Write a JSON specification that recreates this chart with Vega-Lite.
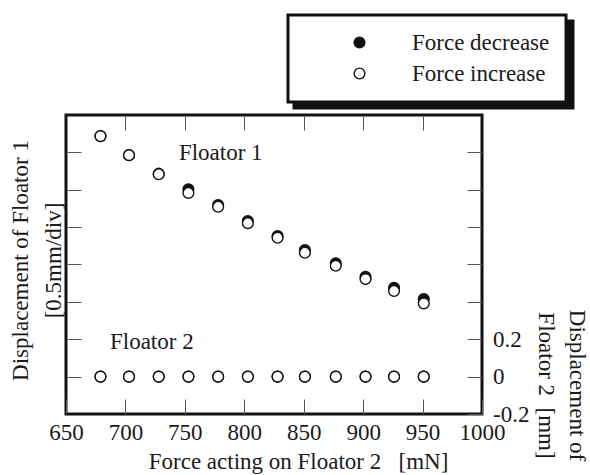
{
  "$schema": "https://vega.github.io/schema/vega-lite/v6.json",
  "width": 416,
  "height": 299,
  "autosize": {"type": "none"},
  "padding": {"left": 66, "top": 115, "right": 108, "bottom": 61},
  "background": "white",
  "datasets": {
    "points": [
      {"series": "Force decrease", "floator": "Floator 1", "force": 679, "disp": 1.287},
      {"series": "Force decrease", "floator": "Floator 1", "force": 703, "disp": 1.185},
      {"series": "Force decrease", "floator": "Floator 1", "force": 728, "disp": 1.086},
      {"series": "Force decrease", "floator": "Floator 1", "force": 753, "disp": 1.003},
      {"series": "Force decrease", "floator": "Floator 1", "force": 778, "disp": 0.918},
      {"series": "Force decrease", "floator": "Floator 1", "force": 803, "disp": 0.832},
      {"series": "Force decrease", "floator": "Floator 1", "force": 828, "disp": 0.752},
      {"series": "Force decrease", "floator": "Floator 1", "force": 851, "disp": 0.677},
      {"series": "Force decrease", "floator": "Floator 1", "force": 877, "disp": 0.607},
      {"series": "Force decrease", "floator": "Floator 1", "force": 902, "disp": 0.534},
      {"series": "Force decrease", "floator": "Floator 1", "force": 926, "disp": 0.475},
      {"series": "Force decrease", "floator": "Floator 1", "force": 951, "disp": 0.415},
      {"series": "Force decrease", "floator": "Floator 2", "force": 679, "disp": 0},
      {"series": "Force decrease", "floator": "Floator 2", "force": 703, "disp": 0},
      {"series": "Force decrease", "floator": "Floator 2", "force": 728, "disp": 0},
      {"series": "Force decrease", "floator": "Floator 2", "force": 753, "disp": 0},
      {"series": "Force decrease", "floator": "Floator 2", "force": 778, "disp": 0},
      {"series": "Force decrease", "floator": "Floator 2", "force": 803, "disp": 0},
      {"series": "Force decrease", "floator": "Floator 2", "force": 828, "disp": 0},
      {"series": "Force decrease", "floator": "Floator 2", "force": 851, "disp": 0},
      {"series": "Force decrease", "floator": "Floator 2", "force": 877, "disp": 0},
      {"series": "Force decrease", "floator": "Floator 2", "force": 902, "disp": 0},
      {"series": "Force decrease", "floator": "Floator 2", "force": 926, "disp": 0},
      {"series": "Force decrease", "floator": "Floator 2", "force": 951, "disp": 0},
      {"series": "Force increase", "floator": "Floator 1", "force": 679, "disp": 1.287},
      {"series": "Force increase", "floator": "Floator 1", "force": 703, "disp": 1.185},
      {"series": "Force increase", "floator": "Floator 1", "force": 728, "disp": 1.083},
      {"series": "Force increase", "floator": "Floator 1", "force": 753, "disp": 0.983},
      {"series": "Force increase", "floator": "Floator 1", "force": 778, "disp": 0.909},
      {"series": "Force increase", "floator": "Floator 1", "force": 803, "disp": 0.821},
      {"series": "Force increase", "floator": "Floator 1", "force": 828, "disp": 0.743},
      {"series": "Force increase", "floator": "Floator 1", "force": 851, "disp": 0.663},
      {"series": "Force increase", "floator": "Floator 1", "force": 877, "disp": 0.593},
      {"series": "Force increase", "floator": "Floator 1", "force": 902, "disp": 0.522},
      {"series": "Force increase", "floator": "Floator 1", "force": 926, "disp": 0.458},
      {"series": "Force increase", "floator": "Floator 1", "force": 951, "disp": 0.392},
      {"series": "Force increase", "floator": "Floator 2", "force": 679, "disp": 0},
      {"series": "Force increase", "floator": "Floator 2", "force": 703, "disp": 0},
      {"series": "Force increase", "floator": "Floator 2", "force": 728, "disp": 0},
      {"series": "Force increase", "floator": "Floator 2", "force": 753, "disp": 0},
      {"series": "Force increase", "floator": "Floator 2", "force": 778, "disp": 0},
      {"series": "Force increase", "floator": "Floator 2", "force": 803, "disp": 0},
      {"series": "Force increase", "floator": "Floator 2", "force": 828, "disp": 0},
      {"series": "Force increase", "floator": "Floator 2", "force": 851, "disp": 0},
      {"series": "Force increase", "floator": "Floator 2", "force": 877, "disp": 0},
      {"series": "Force increase", "floator": "Floator 2", "force": 902, "disp": 0},
      {"series": "Force increase", "floator": "Floator 2", "force": 926, "disp": 0},
      {"series": "Force increase", "floator": "Floator 2", "force": 951, "disp": 0}
    ],
    "labels": [
      {"force": 745, "disp": 1.196, "label": "Floator 1"},
      {"force": 687, "disp": 0.185, "label": "Floator 2"}
    ]
  },
  "layer": [
    {
      "data": {"name": "points"},
      "mark": {"type": "point", "shape": "circle", "size": 115, "filled": true, "strokeWidth": 1.4, "opacity": 1},
      "encoding": {
        "x": {
          "field": "force", "type": "quantitative",
          "scale": {"domain": [650, 1000], "nice": false, "zero": false},
          "axis": {
            "orient": "bottom",
            "values": [650, 700, 750, 800, 850, 900, 950, 1000],
            "format": "d",
            "labelPadding": 22.5,
            "labelBaseline": "top",
            "title": "Force acting on Floator 2\u00a0\u00a0\u00a0[mN]",
            "titleX": 232,
            "titleY": 54,
            "titleBaseline": "alphabetic"
          }
        },
        "y": {
          "field": "disp", "type": "quantitative",
          "scale": {"domain": [-0.2, 1.4], "nice": false, "zero": false},
          "axis": {
            "orient": "left",
            "values": [0, 0.2, 0.4, 0.6, 0.8, 1.0, 1.2],
            "labels": false,
            "title": ["Displacement of Floator 1", "[0.5mm/div]"],
            "titleAngle": 270,
            "titleBaseline": "middle",
            "titleAlign": "center",
            "titleLineHeight": 33,
            "titleX": -46,
            "titleY": 145
          }
        },
        "fill": {
          "field": "series", "type": "nominal",
          "scale": {"domain": ["Force decrease", "Force increase"], "range": ["#111111", "#ffffff"]},
          "legend": {
            "title": null,
            "orient": "none",
            "legendX": 222,
            "legendY": -100,
            "zindex": 2,
            "labelOffset": 41,
            "rowPadding": 7,
            "symbolStrokeColor": "#111111",
            "labelColor": "#1a1a1a",
            "strokeColor": "#111111",
            "fillColor": "white"
          }
        },
        "stroke": {
          "field": "series", "type": "nominal",
          "scale": {"domain": ["Force increase", "Force decrease"], "range": ["#111111", "#111111"]},
          "legend": {
            "title": null,
            "orient": "none",
            "legendX": 228,
            "legendY": -94,
            "zindex": 1,
            "labelExpr": "''",
            "labelOffset": 180,
            "rowPadding": 7.5,
            "symbolStrokeColor": "#111111",
            "symbolFillColor": "#111111",
            "strokeColor": "#111111",
            "fillColor": "#111111"
          }
        }
      }
    },
    {
      "data": {"name": "labels"},
      "mark": {"type": "text", "align": "left", "baseline": "middle", "font": "Liberation Serif", "fontSize": 23, "color": "#1a1a1a"},
      "encoding": {
        "x": {
          "field": "force", "type": "quantitative",
          "axis": {"orient": "top", "values": [700, 750, 800, 850, 900, 950], "labels": false, "title": null}
        },
        "y": {
          "field": "disp", "type": "quantitative",
          "axis": {
            "orient": "right",
            "values": [-0.2, 0, 0.2, 0.4, 0.6, 0.8, 1.0, 1.2],
            "format": ".1~f",
            "labelExpr": "datum.value < 0.3 ? replace(datum.label, '\u2212', '-') : ''",
            "labelAlign": "left",
            "labelBaseline": "middle",
            "labelPadding": 25.5,
            "title": ["Displacement of", "Floator 2\u00a0\u00a0[mm]"],
            "titleAngle": 90,
            "titleBaseline": "middle",
            "titleAlign": "center",
            "titleLineHeight": 31,
            "titleX": 94,
            "titleY": 270
          }
        },
        "text": {"field": "label", "type": "nominal"}
      }
    }
  ],
  "resolve": {"axis": {"x": "independent", "y": "independent"}},
  "config": {
    "font": "Liberation Serif",
    "view": {"stroke": "#111111", "strokeWidth": 3},
    "axis": {
      "domain": false,
      "grid": false,
      "tickColor": "#555555",
      "tickWidth": 1,
      "tickSize": -15,
      "labelFont": "Liberation Serif",
      "labelFontSize": 23,
      "labelColor": "#1a1a1a",
      "labelFlush": false,
      "labelOverlap": false,
      "labelBound": false,
      "titleFont": "Liberation Serif",
      "titleFontSize": 23,
      "titleFontWeight": "normal",
      "titleColor": "#1a1a1a"
    },
    "legend": {
      "padding": 16,
      "symbolOffset": 44,
      "symbolType": "circle",
      "symbolSize": 115,
      "symbolStrokeWidth": 1.4,
      "labelFont": "Liberation Serif",
      "labelFontSize": 23,
      "labelLimit": 0,
      "strokeWidth": 3
    }
  }
}
